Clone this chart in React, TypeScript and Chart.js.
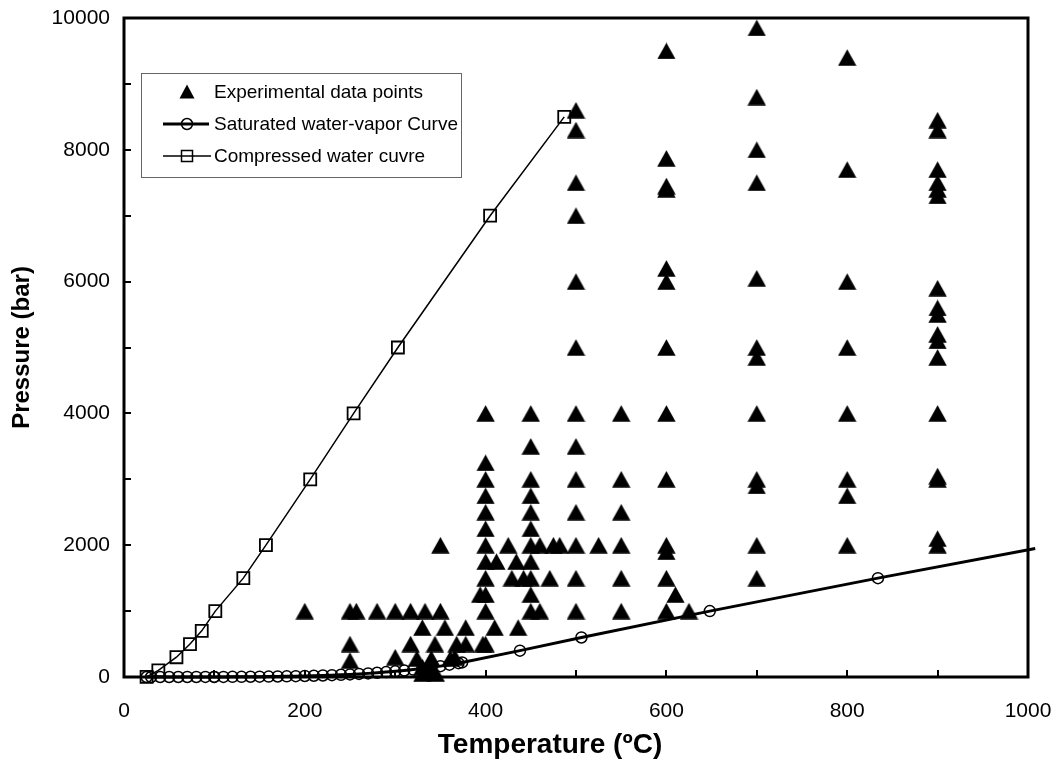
import React, { useEffect, useRef } from 'react';
import { Chart, registerables } from 'chart.js';

Chart.register(...registerables);

// ---- Data ----
const expTemps = [
  200,
  250, 250, 250,
  257, 280,
  300, 300,
  317, 317,
  324,
  330, 330, 330,
  333, 338,
  340, 340,
  344, 345,
  350, 350,
  355, 361, 366, 368,
  378, 378,
  394, 397,
  400, 400, 400, 400, 400, 400, 400, 400, 400, 400, 400, 400,
  410, 412, 425, 429, 434, 436, 442,
  450, 450, 450, 450, 450, 450, 450, 450, 450, 450, 450,
  460, 460, 471, 475, 482,
  500, 500, 500, 500, 500, 500, 500, 500, 500, 500, 500, 500, 500,
  525,
  550, 550, 550, 550, 550, 550,
  600, 600, 600, 600, 600, 600, 600, 600, 600, 600, 600, 600, 600,
  610, 625,
  700, 700, 700, 700, 700, 700, 700, 700, 700, 700, 700, 700,
  800, 800, 800, 800, 800, 800, 800, 800,
  900, 900, 900, 900, 900, 900, 900, 900, 900, 900, 900, 900, 900, 900, 900, 900, 900,
];
const expPressures = [
  1000,
  1000, 500, 250,
  1000, 1000,
  1000, 300,
  1000, 500,
  280,
  750, 150, 50,
  1000, 100,
  280, 150,
  500, 50,
  1000, 2000,
  750, 280, 300, 500,
  750, 500,
  1250, 500,
  4000, 3250, 3000, 2750, 2500, 2250, 2000, 1750, 1500, 1250, 1000, 500,
  750, 1750, 2000, 1500, 1750, 750, 1500,
  4000, 3500, 3000, 2750, 2500, 2250, 2000, 1750, 1500, 1250, 1000,
  2000, 1000, 1500, 2000, 2000,
  8600, 8300, 7500, 7000, 6000, 5000, 4000, 3500, 3000, 2500, 2000, 1500, 1000,
  2000,
  4000, 3000, 2500, 2000, 1500, 1000,
  9500, 7870, 7450, 7400, 6200, 6000, 5000, 4000, 3000, 2000, 1900, 1500, 1000,
  1250, 1000,
  9850, 8800, 8000, 7500, 6050, 5000, 4850, 4000, 3000, 2900, 2000, 1500,
  9400, 7700, 6000, 5000, 4000, 3000, 2750, 2000,
  8450, 8300, 7700, 7500, 7400, 7300, 5900, 5600, 5500, 5200, 5100, 4850, 4000, 3050, 3000, 2100, 2000,
];

const satTemps = [
  25, 30, 40, 50, 60, 70, 80, 90, 99.6, 100, 110, 120, 130, 140, 150, 160, 170, 180, 190,
  200, 210, 220, 230, 240, 250, 260, 270, 280, 290, 300, 310, 320, 330, 340, 350, 360,
  370, 374, 438, 506, 648, 834, 1008,
];
const satPressures = [
  0.03, 0.04, 0.07, 0.12, 0.2, 0.31, 0.47, 0.7, 1.0, 1.01, 1.43, 1.99, 2.7, 3.6, 4.8, 6.2,
  7.9, 10, 12.6, 15.5, 19.1, 23.2, 28, 33.5, 39.8, 46.9, 55, 64.2, 74.4, 85.9, 98.7, 113,
  129, 146, 165, 187, 210, 221, 400, 600, 1000, 1500, 1950,
];

const compTemps = [25, 38, 58, 73, 86, 101, 132, 157, 206, 254, 303, 405, 487];
const compPressures = [1, 100, 300, 500, 700, 1000, 1500, 2000, 3000, 4000, 5000, 7000, 8500];

const xTickValues = [0, 200, 400, 600, 800, 1000];
const yTickValues = [0, 2000, 4000, 6000, 8000, 10000];
const xMinorStep = 100;
const yMinorStep = 1000;

const xTitle = 'Temperature (ºC)';
const yTitle = 'Pressure (bar)';
const legendLabels = [
  'Experimental data points',
  'Saturated water-vapor Curve',
  'Compressed water cuvre',
];

const FONT = "'Liberation Sans', Arial, sans-serif";

function makeTriangle(w: number, h: number) {
  const c = document.createElement('canvas');
  c.width = w;
  c.height = h;
  const g = c.getContext('2d')!;
  g.fillStyle = '#000';
  g.beginPath();
  g.moveTo(w / 2, 0.3);
  g.lineTo(w - 0.3, h - 0.3);
  g.lineTo(0.3, h - 0.3);
  g.closePath();
  g.fill();
  return c;
}

const framePlugin = {
  id: 'frameTicks',
  afterDatasetsDraw(chart: any) {
    const { ctx, chartArea: a, scales } = chart;
    ctx.save();
    ctx.strokeStyle = '#000';
    ctx.lineWidth = 3;
    ctx.strokeRect(a.left, a.top, a.right - a.left, a.bottom - a.top);
    ctx.lineWidth = 2;
    ctx.beginPath();
    for (let v = scales.x.min; v <= scales.x.max; v += xMinorStep) {
      const px = Math.round(scales.x.getPixelForValue(v));
      ctx.moveTo(px, a.bottom);
      ctx.lineTo(px, a.bottom - 7);
    }
    for (let v = scales.y.min; v <= scales.y.max; v += yMinorStep) {
      const py = Math.round(scales.y.getPixelForValue(v));
      ctx.moveTo(a.left, py);
      ctx.lineTo(a.left + 7, py);
    }
    ctx.stroke();

    // x-axis title
    ctx.fillStyle = '#000';
    ctx.font = `bold 28px ${FONT}`;
    ctx.textAlign = 'center';
    ctx.textBaseline = 'middle';
    ctx.fillText(xTitle, 550, 745);
    ctx.restore();
  },
};

const legendPlugin = {
  id: 'insideLegend',
  afterDraw(chart: any) {
    const { ctx, chartArea: a } = chart;
    const bx = a.left + 17;
    const by = a.top + 55;
    const bw = 320;
    const bh = 104;
    ctx.save();
    ctx.fillStyle = '#fff';
    ctx.fillRect(bx, by, bw, bh);
    ctx.strokeStyle = '#666';
    ctx.lineWidth = 1;
    ctx.strokeRect(bx + 0.5, by + 0.5, bw, bh);

    const symX = bx + 46;
    const textX = bx + 73;
    const rows = [by + 19, by + 51, by + 83];
    ctx.fillStyle = '#000';
    ctx.strokeStyle = '#000';

    // triangle
    ctx.beginPath();
    ctx.moveTo(symX, rows[0] - 7.5);
    ctx.lineTo(symX + 7.5, rows[0] + 6.5);
    ctx.lineTo(symX - 7.5, rows[0] + 6.5);
    ctx.closePath();
    ctx.fill();

    // saturated line + circle
    ctx.lineWidth = 3;
    ctx.beginPath();
    ctx.moveTo(symX - 24, rows[1]);
    ctx.lineTo(symX + 22, rows[1]);
    ctx.stroke();
    ctx.lineWidth = 1.5;
    ctx.beginPath();
    ctx.arc(symX, rows[1], 5.5, 0, Math.PI * 2);
    ctx.stroke();

    // compressed line + square
    ctx.lineWidth = 1.5;
    ctx.beginPath();
    ctx.moveTo(symX - 24, rows[2]);
    ctx.lineTo(symX + 24, rows[2]);
    ctx.stroke();
    ctx.strokeRect(symX - 5.5, rows[2] - 5.5, 11, 11);

    ctx.fillStyle = '#000';
    ctx.font = `19px ${FONT}`;
    ctx.textBaseline = 'middle';
    ctx.textAlign = 'left';
    legendLabels.forEach((t, i) => ctx.fillText(t, textX, rows[i] + 1));
    ctx.restore();
  },
};

export default function App() {
  const ref = useRef<HTMLCanvasElement | null>(null);

  useEffect(() => {
    if (!ref.current) return;
    const tri = makeTriangle(19, 17);
    const chart = new Chart(ref.current, {
      type: 'scatter',
      data: {
        datasets: [
          {
            label: legendLabels[0],
            data: expTemps.map((t, i) => ({ x: t, y: expPressures[i] })),
            pointStyle: tri,
            pointRadius: 10,
            showLine: false,
            clip: false,
          },
          {
            label: legendLabels[1],
            data: satTemps.map((t, i) => ({ x: t, y: satPressures[i] })),
            showLine: true,
            borderColor: '#000',
            borderWidth: 3,
            pointStyle: 'circle',
            pointRadius: satTemps.map((_, i) => (i === satTemps.length - 1 ? 0 : 5.5)),
            pointBackgroundColor: 'rgba(0,0,0,0)',
            pointBorderColor: '#000',
            pointBorderWidth: 1.5,
            tension: 0,
            clip: false,
          },
          {
            label: legendLabels[2],
            data: compTemps.map((t, i) => ({ x: t, y: compPressures[i] })),
            showLine: true,
            borderColor: '#000',
            borderWidth: 1.5,
            pointStyle: 'rect',
            pointRadius: 8.5,
            pointBackgroundColor: 'rgba(0,0,0,0)',
            pointBorderColor: '#000',
            pointBorderWidth: 1.8,
            tension: 0,
            clip: false,
          },
        ],
      },
      options: {
        animation: false,
        responsive: false,
        layout: { padding: { top: 18, right: 30, left: 0, bottom: 0 } },
        plugins: { legend: { display: false }, tooltip: { enabled: false } },
        scales: {
          x: {
            type: 'linear',
            min: 0,
            max: 1000,
            grid: { display: false, drawTicks: false },
            border: { display: false },
            afterBuildTicks: (s: any) => {
              s.ticks = xTickValues.map((v) => ({ value: v }));
            },
            afterFit: (s: any) => {
              s.height = 89;
              s.paddingLeft = 0;
              s.paddingRight = 0;
            },
            ticks: {
              color: '#000',
              font: { family: FONT, size: 21 },
              padding: 22,
              maxRotation: 0,
              callback: (v: any) => String(v),
            },
            title: { display: false },
          },
          y: {
            type: 'linear',
            min: 0,
            max: 10000,
            grid: { display: false, drawTicks: false },
            border: { display: false },
            afterBuildTicks: (s: any) => {
              s.ticks = yTickValues.map((v) => ({ value: v }));
            },
            afterFit: (s: any) => {
              s.width = 124;
              s.paddingTop = 0;
              s.paddingBottom = 0;
            },
            ticks: {
              color: '#000',
              font: { family: FONT, size: 21 },
              padding: 14,
              callback: (v: any) => String(v),
            },
            title: {
              display: true,
              text: yTitle,
              color: '#000',
              font: { family: FONT, size: 24, weight: 'bold' },
              padding: { top: 8, bottom: 0 },
            },
          },
        },
      },
      plugins: [framePlugin, legendPlugin],
    } as any);
    return () => chart.destroy();
  }, []);

  return (
    <div style={{ position: 'fixed', left: 0, top: 0, width: 1058, height: 766, background: '#fff' }}>
      <canvas ref={ref} width={1058} height={766} />
    </div>
  );
}
